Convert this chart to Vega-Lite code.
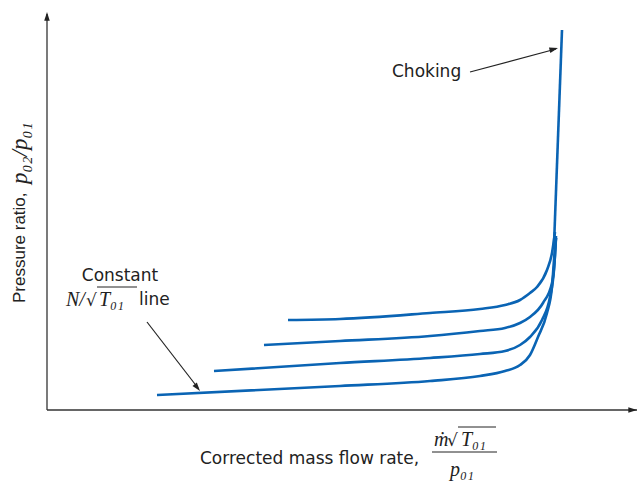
{
  "$schema": "https://vega.github.io/schema/vega-lite/v6.json",
  "width": 590,
  "height": 398,
  "autosize": "none",
  "padding": {"left": 47, "top": 12, "right": 1, "bottom": 77},
  "background": "white",
  "config": {"view": {"stroke": null}},
  "datasets": {
    "axes": [
      {"x": 0, "y": 0, "x2": 590, "y2": 0},
      {"x": 0, "y": 0, "x2": 0, "y2": 396}
    ],
    "shafts": [
      {"x": 423, "y": 338, "x2": 509, "y2": 361},
      {"x": 100, "y": 88, "x2": 151, "y2": 22}
    ],
    "heads": [
      {"x": 0, "y": 398, "angle": 0},
      {"x": 590, "y": 0, "angle": 90},
      {"x": 511, "y": 362, "angle": 75},
      {"x": 153, "y": 19, "angle": 142}
    ],
    "curves": [
      {"curve": "c1", "seq": 1, "x": 241, "y": 90},
      {"curve": "c1", "seq": 2, "x": 293, "y": 91},
      {"curve": "c1", "seq": 3, "x": 383, "y": 97},
      {"curve": "c1", "seq": 4, "x": 433, "y": 101},
      {"curve": "c1", "seq": 5, "x": 458, "y": 105},
      {"curve": "c1", "seq": 6, "x": 473, "y": 110},
      {"curve": "c1", "seq": 7, "x": 483, "y": 117},
      {"curve": "c1", "seq": 8, "x": 490, "y": 123},
      {"curve": "c1", "seq": 9, "x": 500, "y": 140},
      {"curve": "c1", "seq": 10, "x": 505, "y": 157},
      {"curve": "c1", "seq": 11, "x": 508, "y": 178},
      {"curve": "c2", "seq": 1, "x": 217, "y": 65},
      {"curve": "c2", "seq": 2, "x": 293, "y": 69},
      {"curve": "c2", "seq": 3, "x": 383, "y": 74},
      {"curve": "c2", "seq": 4, "x": 433, "y": 79},
      {"curve": "c2", "seq": 5, "x": 458, "y": 82},
      {"curve": "c2", "seq": 6, "x": 473, "y": 87},
      {"curve": "c2", "seq": 7, "x": 483, "y": 93},
      {"curve": "c2", "seq": 8, "x": 496, "y": 107},
      {"curve": "c2", "seq": 9, "x": 505, "y": 127},
      {"curve": "c2", "seq": 10, "x": 508, "y": 155},
      {"curve": "c2", "seq": 11, "x": 509, "y": 174},
      {"curve": "c3", "seq": 1, "x": 167, "y": 39},
      {"curve": "c3", "seq": 2, "x": 293, "y": 47},
      {"curve": "c3", "seq": 3, "x": 383, "y": 52},
      {"curve": "c3", "seq": 4, "x": 433, "y": 56},
      {"curve": "c3", "seq": 5, "x": 458, "y": 59},
      {"curve": "c3", "seq": 6, "x": 473, "y": 65},
      {"curve": "c3", "seq": 7, "x": 483, "y": 73},
      {"curve": "c3", "seq": 8, "x": 495, "y": 90},
      {"curve": "c3", "seq": 9, "x": 503, "y": 113},
      {"curve": "c3", "seq": 10, "x": 507, "y": 140},
      {"curve": "c3", "seq": 11, "x": 509, "y": 172},
      {"curve": "c4", "seq": 1, "x": 110, "y": 15},
      {"curve": "c4", "seq": 2, "x": 293, "y": 24},
      {"curve": "c4", "seq": 3, "x": 383, "y": 29},
      {"curve": "c4", "seq": 4, "x": 433, "y": 34},
      {"curve": "c4", "seq": 5, "x": 458, "y": 39},
      {"curve": "c4", "seq": 6, "x": 473, "y": 45},
      {"curve": "c4", "seq": 7, "x": 483, "y": 55},
      {"curve": "c4", "seq": 8, "x": 491, "y": 73},
      {"curve": "c4", "seq": 9, "x": 500, "y": 97},
      {"curve": "c4", "seq": 10, "x": 505, "y": 123},
      {"curve": "c4", "seq": 11, "x": 507, "y": 150},
      {"curve": "c4", "seq": 12, "x": 509, "y": 172},
      {"curve": "choke", "seq": 1, "x": 507, "y": 165},
      {"curve": "choke", "seq": 2, "x": 515, "y": 380}
    ],
    "bars": [
      {"x": 50, "x2": 90, "y": 123},
      {"x": 411, "x2": 449, "y": -17},
      {"x": 385, "x2": 450, "y": -42}
    ],
    "sansleft": [
      {"t": "Choking", "x": 345, "y": 338},
      {"t": "line", "x": 92, "y": 110},
      {"t": "Corrected mass flow rate,", "x": 153, "y": -49}
    ],
    "sanscenter": [
      {"t": "Constant", "x": 73, "y": 134}
    ],
    "italic": [
      {"t": "N/", "x": 19, "y": 110},
      {"t": "T₀₁", "x": 52, "y": 110},
      {"t": "ṁ", "x": 387, "y": -30},
      {"t": "T₀₁", "x": 414, "y": -30},
      {"t": "p₀₁", "x": 403, "y": -60}
    ],
    "roots": [
      {"t": "√", "x": 39, "y": 109},
      {"t": "√", "x": 400, "y": -31}
    ],
    "ytitle": [
      {"t": "Pressure ratio,", "x": -27, "y": 107, "f": "sans"},
      {"t": "p₀₂/p₀₁", "x": -27, "y": 226, "f": "serif"}
    ]
  },
  "layer": [
    {
      "data": {"name": "axes"},
      "mark": {"type": "rule", "color": "#333333", "strokeWidth": 1.3},
      "encoding": {
        "x": {"field": "x", "type": "quantitative", "scale": {"domain": [0, 590], "nice": false, "zero": false}, "axis": null},
        "y": {"field": "y", "type": "quantitative", "scale": {"domain": [0, 398], "nice": false, "zero": false}, "axis": null},
        "x2": {"field": "x2"},
        "y2": {"field": "y2"}
      }
    },
    {
      "data": {"name": "shafts"},
      "mark": {"type": "rule", "color": "#222222", "strokeWidth": 1.2},
      "encoding": {
        "x": {"field": "x", "type": "quantitative", "axis": null},
        "y": {"field": "y", "type": "quantitative", "axis": null},
        "x2": {"field": "x2"},
        "y2": {"field": "y2"}
      }
    },
    {
      "data": {"name": "curves"},
      "mark": {"type": "line", "interpolate": "monotone", "color": "#0a64b4", "strokeWidth": 2.6, "clip": false},
      "encoding": {
        "x": {"field": "x", "type": "quantitative", "axis": null},
        "y": {"field": "y", "type": "quantitative", "axis": null},
        "detail": {"field": "curve"},
        "order": {"field": "seq", "type": "quantitative"}
      }
    },
    {
      "data": {"name": "heads"},
      "mark": {"type": "point", "shape": "M0,0L0.32,1L-0.32,1Z", "filled": true, "color": "#222222", "opacity": 1, "size": 300, "clip": false},
      "encoding": {
        "x": {"field": "x", "type": "quantitative", "axis": null},
        "y": {"field": "y", "type": "quantitative", "axis": null},
        "angle": {"field": "angle", "type": "quantitative", "scale": null}
      }
    },
    {
      "data": {"name": "bars"},
      "mark": {"type": "rule", "color": "#222222", "strokeWidth": 1, "clip": false},
      "encoding": {
        "x": {"field": "x", "type": "quantitative", "axis": null},
        "x2": {"field": "x2"},
        "y": {"field": "y", "type": "quantitative", "axis": null}
      }
    },
    {
      "data": {"name": "sansleft"},
      "mark": {"type": "text", "font": "DejaVu Sans", "fontSize": 17, "color": "#222222", "baseline": "middle", "align": "left", "clip": false},
      "encoding": {
        "x": {"field": "x", "type": "quantitative", "axis": null},
        "y": {"field": "y", "type": "quantitative", "axis": null},
        "text": {"field": "t"}
      }
    },
    {
      "data": {"name": "sanscenter"},
      "mark": {"type": "text", "font": "DejaVu Sans", "fontSize": 17, "color": "#222222", "baseline": "middle", "align": "center", "clip": false},
      "encoding": {
        "x": {"field": "x", "type": "quantitative", "axis": null},
        "y": {"field": "y", "type": "quantitative", "axis": null},
        "text": {"field": "t"}
      }
    },
    {
      "data": {"name": "italic"},
      "mark": {"type": "text", "font": "Liberation Serif", "fontStyle": "italic", "fontSize": 20, "color": "#222222", "baseline": "middle", "align": "left", "clip": false},
      "encoding": {
        "x": {"field": "x", "type": "quantitative", "axis": null},
        "y": {"field": "y", "type": "quantitative", "axis": null},
        "text": {"field": "t"}
      }
    },
    {
      "data": {"name": "roots"},
      "mark": {"type": "text", "font": "DejaVu Serif", "fontSize": 17, "color": "#222222", "baseline": "middle", "align": "left", "clip": false},
      "encoding": {
        "x": {"field": "x", "type": "quantitative", "axis": null},
        "y": {"field": "y", "type": "quantitative", "axis": null},
        "text": {"field": "t"}
      }
    },
    {
      "data": {"name": "ytitle"},
      "transform": [{"filter": "datum.f === 'sans'"}],
      "mark": {"type": "text", "font": "Liberation Sans", "fontSize": 17, "color": "#222222", "baseline": "middle", "align": "left", "angle": 270, "clip": false},
      "encoding": {
        "x": {"field": "x", "type": "quantitative", "axis": null},
        "y": {"field": "y", "type": "quantitative", "axis": null},
        "text": {"field": "t"}
      }
    },
    {
      "data": {"name": "ytitle"},
      "transform": [{"filter": "datum.f === 'serif'"}],
      "mark": {"type": "text", "font": "Liberation Serif", "fontStyle": "italic", "fontSize": 23, "color": "#222222", "baseline": "middle", "align": "left", "angle": 270, "clip": false},
      "encoding": {
        "x": {"field": "x", "type": "quantitative", "axis": null},
        "y": {"field": "y", "type": "quantitative", "axis": null},
        "text": {"field": "t"}
      }
    }
  ]
}
